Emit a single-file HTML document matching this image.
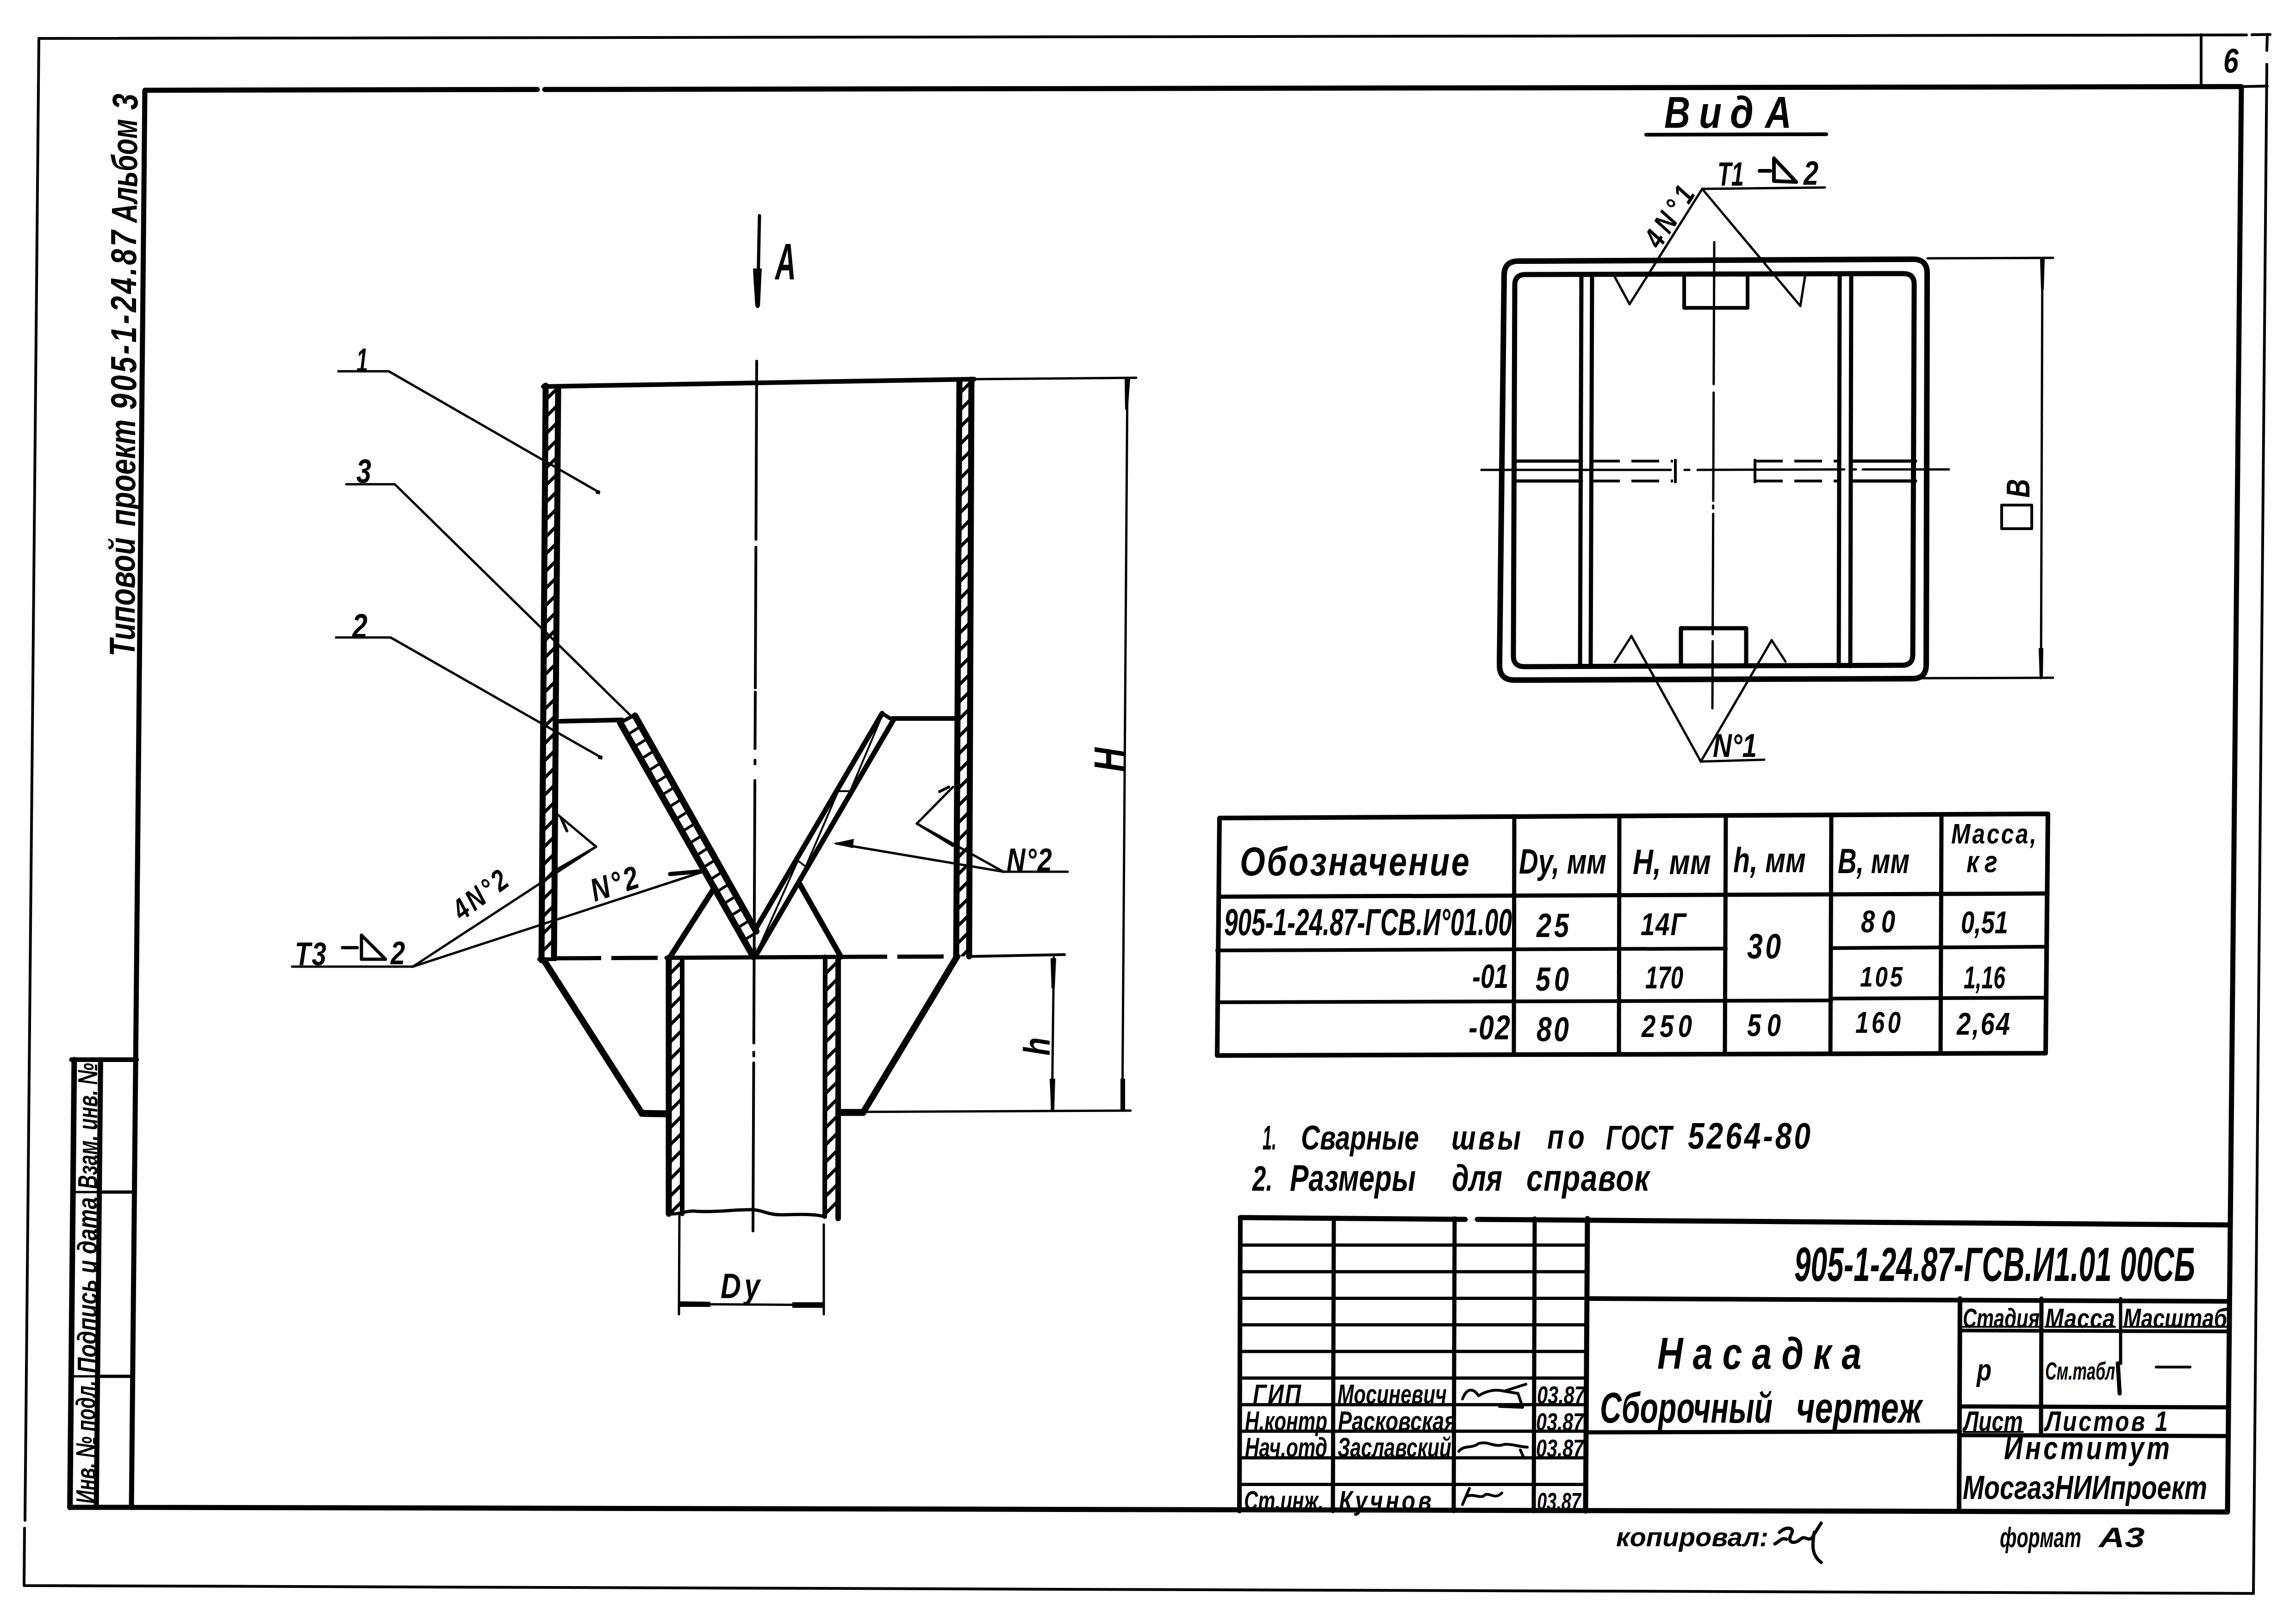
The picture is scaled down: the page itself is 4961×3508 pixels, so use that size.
<!DOCTYPE html>
<html><head><meta charset="utf-8"><title>Насадка</title>
<style>html,body{margin:0;padding:0;background:#fff;}svg{display:block;}text{font-family:"Liberation Sans",sans-serif;fill:#000;stroke:none;}</style>
</head><body>
<svg width="4961" height="3508" viewBox="0 0 4961 3508" stroke="#000" stroke-linecap="round" stroke-linejoin="round">
<rect width="4961" height="3508" fill="#fff" stroke="none"/>
<polyline points="84.0,83.0 4854.0,75.5" stroke-width="6" fill="none" />
<polyline points="4866.0,75.0 4905.0,74.5" stroke-width="6" fill="none" />
<polyline points="4899.0,74.5 4898.0,109.0" stroke-width="6" fill="none" />
<polyline points="4898.0,139.0 4869.0,3442.0 52.0,3425.0 53.0,3301.0" stroke-width="6" fill="none" />
<line x1="4843.0" y1="187.0" x2="4899.0" y2="186.0" stroke-width="6" />
<polyline points="54.0,3284.0 84.0,83.0" stroke-width="6" fill="none" />
<polyline points="1161.0,193.3 313.0,195.0 284.0,3256.0 4813.0,3266.0 4843.0,187.0 1177.0,193.3" stroke-width="11" fill="none" />
<line x1="4756.0" y1="75.0" x2="4756.0" y2="187.0" stroke-width="6" />
<text x="0" y="0" font-size="74.0" font-weight="bold" font-style="italic" textLength="47.5" lengthAdjust="spacing" transform="translate(4804.0 157.0) scale(0.8000 1)" >6</text>
<text x="0" y="0" font-size="78.0" font-weight="bold" font-style="italic" textLength="328.1" lengthAdjust="spacing" transform="translate(291.0 1418.0) rotate(-90) scale(0.7834 1)">Типовой</text>
<text x="0" y="0" font-size="78.0" font-weight="bold" font-style="italic" textLength="295.2" lengthAdjust="spacing" transform="translate(292.0 1137.0) rotate(-90) scale(0.7825 1)">проект</text>
<text x="0" y="0" font-size="78.0" font-weight="bold" font-style="italic" textLength="483.8" lengthAdjust="spacing" transform="translate(294.0 885.0) rotate(-90) scale(0.8000 1)">905-1-24.87</text>
<text x="0" y="0" font-size="78.0" font-weight="bold" font-style="italic" textLength="304.8" lengthAdjust="spacing" transform="translate(296.0 481.0) rotate(-90) scale(0.7349 1)">Альбом</text>
<text x="0" y="0" font-size="78.0" font-weight="bold" font-style="italic" textLength="43.8" lengthAdjust="spacing" transform="translate(297.0 237.0) rotate(-90) scale(0.8000 1)">3</text>
<line x1="160.4" y1="2289.0" x2="151.1" y2="3256.0" stroke-width="12" />
<line x1="217.4" y1="2289.0" x2="208.1" y2="3256.0" stroke-width="11" />
<line x1="154.4" y1="2289.0" x2="295.4" y2="2289.0" stroke-width="10" />
<line x1="151.1" y1="3256.0" x2="290.0" y2="3256.0" stroke-width="11" />
<line x1="214.6" y1="2575.0" x2="292.6" y2="2575.0" stroke-width="7" />
<line x1="210.8" y1="2973.0" x2="288.8" y2="2973.0" stroke-width="7" />
<line x1="157.6" y1="2575.0" x2="214.6" y2="2575.0" stroke-width="5" />
<line x1="153.8" y1="2973.0" x2="210.8" y2="2973.0" stroke-width="5" />
<text x="0" y="0" font-size="60.0" font-weight="bold" font-style="italic" textLength="396.3" lengthAdjust="spacing" transform="translate(210.0 2568.0) rotate(-90) scale(0.6864 1)">Взам. инв. №</text>
<text x="0" y="0" font-size="60.0" font-weight="bold" font-style="italic" textLength="486.4" lengthAdjust="spacing" transform="translate(209.0 2966.0) rotate(-90) scale(0.7813 1)">Подпись и дата</text>
<text x="0" y="0" font-size="60.0" font-weight="bold" font-style="italic" textLength="398.8" lengthAdjust="spacing" transform="translate(206.0 3248.0) rotate(-90) scale(0.6670 1)">Инв. № подл.</text>
<line x1="1174.0" y1="835.0" x2="2105.0" y2="819.0" stroke-width="10" />
<line x1="2105.0" y1="819.0" x2="2455.0" y2="816.0" stroke-width="5" />
<clipPath id="c1"><polygon points="1180.0,835.0 1171.0,2072.0 1198.0,2072.0 1207.0,835.0"/></clipPath>
<path d="M1166.0,840.0L1212.0,794.0M1166.0,877.0L1212.0,831.0M1166.0,914.0L1212.0,868.0M1166.0,951.0L1212.0,905.0M1166.0,988.0L1212.0,942.0M1166.0,1025.0L1212.0,979.0M1166.0,1062.0L1212.0,1016.0M1166.0,1099.0L1212.0,1053.0M1166.0,1136.0L1212.0,1090.0M1166.0,1173.0L1212.0,1127.0M1166.0,1210.0L1212.0,1164.0M1166.0,1247.0L1212.0,1201.0M1166.0,1284.0L1212.0,1238.0M1166.0,1321.0L1212.0,1275.0M1166.0,1358.0L1212.0,1312.0M1166.0,1395.0L1212.0,1349.0M1166.0,1432.0L1212.0,1386.0M1166.0,1469.0L1212.0,1423.0M1166.0,1506.0L1212.0,1460.0M1166.0,1543.0L1212.0,1497.0M1166.0,1580.0L1212.0,1534.0M1166.0,1617.0L1212.0,1571.0M1166.0,1654.0L1212.0,1608.0M1166.0,1691.0L1212.0,1645.0M1166.0,1728.0L1212.0,1682.0M1166.0,1765.0L1212.0,1719.0M1166.0,1802.0L1212.0,1756.0M1166.0,1839.0L1212.0,1793.0M1166.0,1876.0L1212.0,1830.0M1166.0,1913.0L1212.0,1867.0M1166.0,1950.0L1212.0,1904.0M1166.0,1987.0L1212.0,1941.0M1166.0,2024.0L1212.0,1978.0M1166.0,2061.0L1212.0,2015.0M1166.0,2098.0L1212.0,2052.0" stroke-width="7" clip-path="url(#c1)"/>
<line x1="1179.0" y1="833.0" x2="1170.0" y2="2074.0" stroke-width="13" />
<line x1="1206.0" y1="840.0" x2="1197.0" y2="2068.0" stroke-width="13" />
<line x1="1165.0" y1="2072.0" x2="1200.0" y2="2072.0" stroke-width="8" />
<clipPath id="c2"><polygon points="2073.0,822.0 2066.0,2066.0 2093.0,2066.0 2099.0,820.0"/></clipPath>
<path d="M2061.0,825.0L2104.0,782.0M2061.0,862.0L2104.0,819.0M2061.0,899.0L2104.0,856.0M2061.0,936.0L2104.0,893.0M2061.0,973.0L2104.0,930.0M2061.0,1010.0L2104.0,967.0M2061.0,1047.0L2104.0,1004.0M2061.0,1084.0L2104.0,1041.0M2061.0,1121.0L2104.0,1078.0M2061.0,1158.0L2104.0,1115.0M2061.0,1195.0L2104.0,1152.0M2061.0,1232.0L2104.0,1189.0M2061.0,1269.0L2104.0,1226.0M2061.0,1306.0L2104.0,1263.0M2061.0,1343.0L2104.0,1300.0M2061.0,1380.0L2104.0,1337.0M2061.0,1417.0L2104.0,1374.0M2061.0,1454.0L2104.0,1411.0M2061.0,1491.0L2104.0,1448.0M2061.0,1528.0L2104.0,1485.0M2061.0,1565.0L2104.0,1522.0M2061.0,1602.0L2104.0,1559.0M2061.0,1639.0L2104.0,1596.0M2061.0,1676.0L2104.0,1633.0M2061.0,1713.0L2104.0,1670.0M2061.0,1750.0L2104.0,1707.0M2061.0,1787.0L2104.0,1744.0M2061.0,1824.0L2104.0,1781.0M2061.0,1861.0L2104.0,1818.0M2061.0,1898.0L2104.0,1855.0M2061.0,1935.0L2104.0,1892.0M2061.0,1972.0L2104.0,1929.0M2061.0,2009.0L2104.0,1966.0M2061.0,2046.0L2104.0,2003.0M2061.0,2083.0L2104.0,2040.0" stroke-width="7" clip-path="url(#c2)"/>
<line x1="2073.0" y1="822.0" x2="2066.0" y2="2066.0" stroke-width="13" />
<line x1="2099.0" y1="820.0" x2="2094.0" y2="2066.0" stroke-width="13" />
<path d="M1199,2070 L1440,2069" stroke-width="9" fill="none" stroke-dasharray="100,22" stroke-linecap="butt"/>
<line x1="1440.0" y1="2069.0" x2="1817.0" y2="2067.0" stroke-width="9" />
<path d="M1817,2067 L2068,2066" stroke-width="9" fill="none" stroke-dasharray="100,22" stroke-linecap="butt"/>
<line x1="2099.0" y1="2066.0" x2="2300.0" y2="2062.0" stroke-width="6" />
<line x1="1210.0" y1="1558.0" x2="1344.0" y2="1555.0" stroke-width="10" />
<line x1="1928.0" y1="1552.0" x2="2068.0" y2="1552.0" stroke-width="10" />
<clipPath id="c3"><polygon points="1344.0,1559.0 1628.0,2067.0 1640.0,2030.0 1374.0,1546.0"/></clipPath>
<path d="M1311.5,1579.3L1379.9,1536.6M1327.4,1604.8L1395.8,1562.0M1343.3,1630.2L1411.7,1587.5M1359.2,1655.6L1427.6,1612.9M1375.1,1681.1L1443.5,1638.3M1391.0,1706.5L1459.4,1663.8M1406.9,1732.0L1475.3,1689.2M1422.8,1757.4L1491.2,1714.7M1438.7,1782.9L1507.1,1740.1M1454.6,1808.3L1523.0,1765.5M1470.5,1833.7L1538.9,1791.0M1486.3,1859.2L1554.8,1816.4M1502.2,1884.6L1570.7,1841.9M1518.1,1910.1L1586.6,1867.3M1534.0,1935.5L1602.5,1892.7M1549.9,1960.9L1618.4,1918.2M1565.8,1986.4L1634.3,1943.6M1581.7,2011.8L1650.2,1969.1M1597.6,2037.3L1666.1,1994.5M1613.5,2062.7L1682.0,2020.0" stroke-width="6" clip-path="url(#c3)"/>
<line x1="1340.0" y1="1561.0" x2="1628.0" y2="2067.0" stroke-width="14" />
<line x1="1372.0" y1="1546.0" x2="1634.0" y2="2012.0" stroke-width="14" />
<line x1="1344.0" y1="1559.0" x2="1372.0" y2="1544.0" stroke-width="8" />
<line x1="1906.0" y1="1541.0" x2="1632.0" y2="2008.0" stroke-width="11" />
<line x1="1930.0" y1="1556.0" x2="1632.0" y2="2066.0" stroke-width="11" />
<line x1="1906.0" y1="1541.0" x2="1930.0" y2="1556.0" stroke-width="8" />
<polyline points="1902.0,1555.0 1837.0,1709.0 1811.0,1709.0 1741.0,1872.0 1724.0,1859.0 1643.0,2040.0" stroke-width="4" fill="none" />
<line x1="1448.0" y1="2067.0" x2="1544.0" y2="1917.0" stroke-width="12" />
<line x1="1728.0" y1="1910.0" x2="1817.0" y2="2067.0" stroke-width="12" />
<line x1="1175.0" y1="2074.0" x2="1387.0" y2="2405.0" stroke-width="14" />
<line x1="1387.0" y1="2405.0" x2="1440.0" y2="2406.0" stroke-width="15" />
<line x1="2068.0" y1="2066.0" x2="1865.0" y2="2403.0" stroke-width="14" />
<line x1="1815.0" y1="2403.0" x2="1865.0" y2="2403.0" stroke-width="15" />
<line x1="1815.0" y1="2402.0" x2="2443.0" y2="2399.0" stroke-width="5" />
<clipPath id="c4"><polygon points="1445.0,2069.0 1445.0,2621.0 1473.0,2621.0 1473.0,2069.0"/></clipPath>
<path d="M1440.0,2074.0L1478.0,2036.0M1440.0,2111.0L1478.0,2073.0M1440.0,2148.0L1478.0,2110.0M1440.0,2185.0L1478.0,2147.0M1440.0,2222.0L1478.0,2184.0M1440.0,2259.0L1478.0,2221.0M1440.0,2296.0L1478.0,2258.0M1440.0,2333.0L1478.0,2295.0M1440.0,2370.0L1478.0,2332.0M1440.0,2407.0L1478.0,2369.0M1440.0,2444.0L1478.0,2406.0M1440.0,2481.0L1478.0,2443.0M1440.0,2518.0L1478.0,2480.0M1440.0,2555.0L1478.0,2517.0M1440.0,2592.0L1478.0,2554.0M1440.0,2629.0L1478.0,2591.0" stroke-width="7" clip-path="url(#c4)"/>
<line x1="1445.0" y1="2069.0" x2="1445.0" y2="2622.0" stroke-width="13" />
<line x1="1474.0" y1="2069.0" x2="1474.0" y2="2622.0" stroke-width="10" />
<clipPath id="c5"><polygon points="1783.0,2067.0 1783.0,2626.0 1811.0,2631.0 1811.0,2067.0"/></clipPath>
<path d="M1778.0,2072.0L1816.0,2034.0M1778.0,2109.0L1816.0,2071.0M1778.0,2146.0L1816.0,2108.0M1778.0,2183.0L1816.0,2145.0M1778.0,2220.0L1816.0,2182.0M1778.0,2257.0L1816.0,2219.0M1778.0,2294.0L1816.0,2256.0M1778.0,2331.0L1816.0,2293.0M1778.0,2368.0L1816.0,2330.0M1778.0,2405.0L1816.0,2367.0M1778.0,2442.0L1816.0,2404.0M1778.0,2479.0L1816.0,2441.0M1778.0,2516.0L1816.0,2478.0M1778.0,2553.0L1816.0,2515.0M1778.0,2590.0L1816.0,2552.0M1778.0,2627.0L1816.0,2589.0M1778.0,2664.0L1816.0,2626.0" stroke-width="7" clip-path="url(#c5)"/>
<line x1="1783.0" y1="2067.0" x2="1782.0" y2="2628.0" stroke-width="10" />
<line x1="1811.0" y1="2067.0" x2="1811.0" y2="2632.0" stroke-width="12" />
<path d="M1445,2622 C1470,2624 1480,2615 1500,2616 C1540,2620 1590,2612 1625,2613 C1650,2614 1660,2625 1690,2624 C1730,2623 1760,2622 1782,2628" stroke-width="7" fill="none" />
<line x1="1635.0" y1="780.0" x2="1633.4" y2="1165.0" stroke-width="6" />
<line x1="1633.3" y1="1182.0" x2="1632.0" y2="1486.0" stroke-width="6" />
<line x1="1632.0" y1="1495.0" x2="1631.4" y2="1617.0" stroke-width="6" />
<line x1="1631.3" y1="1642.0" x2="1631.3" y2="1650.0" stroke-width="6" />
<line x1="1631.1" y1="1686.0" x2="1628.7" y2="2253.0" stroke-width="6" />
<line x1="1628.6" y1="2273.0" x2="1628.6" y2="2281.0" stroke-width="6" />
<line x1="1628.5" y1="2296.0" x2="1627.0" y2="2659.0" stroke-width="6" />
<line x1="1641.0" y1="466.0" x2="1637.0" y2="662.0" stroke-width="7" />
<polygon points="1627.0,580.0 1646.0,580.0 1645.0,600.0 1642.0,662.0 1632.0,662.0 1628.0,600.0" fill="#000" stroke="none" />
<text x="0" y="0" font-size="112.0" font-weight="bold" font-style="italic" textLength="80.9" lengthAdjust="spacing" transform="translate(1675.0 604.0) scale(0.5564 1)" >A</text>
<line x1="2436.0" y1="816.0" x2="2425.0" y2="2399.0" stroke-width="5" />
<polygon points="2430.0,818.0 2442.0,818.0 2437.0,885.0 2431.0,885.0" fill="#000" stroke="none" />
<polygon points="2421.0,2330.0 2431.0,2330.0 2431.0,2398.0 2421.0,2398.0" fill="#000" stroke="none" />
<text x="0" y="0" font-size="90.0" font-weight="bold" font-style="italic" textLength="67.5" lengthAdjust="spacing" transform="translate(2428.0 1667.0) rotate(-90) scale(0.8000 1)">H</text>
<line x1="2277.0" y1="2068.0" x2="2273.0" y2="2399.0" stroke-width="5" />
<polygon points="2270.0,2070.0 2282.0,2070.0 2279.0,2135.0 2272.0,2135.0" fill="#000" stroke="none" />
<polygon points="2268.0,2330.0 2280.0,2330.0 2278.0,2397.0 2271.0,2397.0" fill="#000" stroke="none" />
<text x="0" y="0" font-size="80.0" font-weight="bold" font-style="italic" textLength="57.5" lengthAdjust="spacing" transform="translate(2268.0 2280.0) rotate(-90) scale(0.8000 1)">h</text>
<line x1="1468.0" y1="2625.0" x2="1467.0" y2="2839.0" stroke-width="5" />
<line x1="1780.0" y1="2645.0" x2="1780.0" y2="2839.0" stroke-width="5" />
<line x1="1467.0" y1="2817.0" x2="1780.0" y2="2819.0" stroke-width="5" />
<polygon points="1467.0,2811.0 1535.0,2812.0 1535.0,2823.0 1467.0,2823.0" fill="#000" stroke="none" />
<polygon points="1712.0,2813.0 1780.0,2813.0 1780.0,2825.0 1712.0,2825.0" fill="#000" stroke="none" />
<text x="0" y="0" font-size="76.0" font-weight="bold" font-style="italic" textLength="106.2" lengthAdjust="spacing" transform="translate(1557.0 2804.0) scale(0.8000 1)" >Dy</text>
<polyline points="731.0,802.0 840.0,802.0 1292.0,1062.0" stroke-width="5" fill="none" />
<text x="0" y="0" font-size="75.0" font-weight="bold" font-style="italic" textLength="41.7" lengthAdjust="spacing" transform="translate(770.0 804.0) scale(0.5994 1)" >1</text>
<polyline points="748.0,1046.0 853.0,1046.0 1367.0,1550.0" stroke-width="5" fill="none" />
<text x="0" y="0" font-size="72.0" font-weight="bold" font-style="italic" textLength="42.5" lengthAdjust="spacing" transform="translate(770.0 1043.0) scale(0.8000 1)" >3</text>
<polyline points="726.0,1377.0 844.0,1377.0 1297.0,1635.0" stroke-width="5" fill="none" />
<text x="0" y="0" font-size="74.0" font-weight="bold" font-style="italic" textLength="43.8" lengthAdjust="spacing" transform="translate(761.0 1378.0) scale(0.8000 1)" >2</text>
<line x1="631.0" y1="2088.0" x2="892.0" y2="2088.0" stroke-width="5" />
<text x="0" y="0" font-size="70.0" font-weight="bold" font-style="italic" textLength="85.0" lengthAdjust="spacing" transform="translate(637.0 2085.0) scale(0.8000 1)" >T3</text>
<line x1="740.0" y1="2047.0" x2="772.0" y2="2047.0" stroke-width="7" />
<polygon points="781.0,2020.0 781.0,2072.0 833.0,2072.0" stroke-width="7" fill="none" />
<text x="0" y="0" font-size="70.0" font-weight="bold" font-style="italic" textLength="45.0" lengthAdjust="spacing" transform="translate(844.0 2083.0) scale(0.8000 1)" >2</text>
<line x1="892.0" y1="2088.0" x2="1288.0" y2="1829.0" stroke-width="5" />
<line x1="892.0" y1="2088.0" x2="1519.0" y2="1883.0" stroke-width="5" />
<line x1="1448.0" y1="1888.0" x2="1518.0" y2="1882.0" stroke-width="9" />
<polyline points="1197.0,1753.0 1288.0,1829.0 1200.0,1880.0" stroke-width="5" fill="none" />
<line x1="1212.0" y1="1766.0" x2="1225.0" y2="1795.0" stroke-width="6" />
<text x="0" y="0" font-size="64.0" font-weight="bold" font-style="italic" textLength="165.0" lengthAdjust="spacing" transform="translate(998.0 1990.0) rotate(-37) scale(0.8000 1)" >4N°2</text>
<text x="0" y="0" font-size="70.0" font-weight="bold" font-style="italic" textLength="131.2" lengthAdjust="spacing" transform="translate(1285.0 1948.0) rotate(-18) scale(0.8000 1)" >N°2</text>
<line x1="2307.0" y1="1883.0" x2="2168.0" y2="1883.0" stroke-width="5" />
<line x1="2168.0" y1="1883.0" x2="1981.0" y2="1779.0" stroke-width="5" />
<line x1="2168.0" y1="1883.0" x2="1807.0" y2="1822.0" stroke-width="5" />
<polygon points="1800.0,1822.0 1845.0,1812.0 1843.0,1832.0" fill="#000" stroke="none" />
<polyline points="2059.0,1700.0 1981.0,1779.0 2059.0,1827.0" stroke-width="5" fill="none" />
<line x1="2030.0" y1="1710.0" x2="2050.0" y2="1700.0" stroke-width="6" />
<text x="0" y="0" font-size="70.0" font-weight="bold" font-style="italic" textLength="122.5" lengthAdjust="spacing" transform="translate(2175.0 1882.0) scale(0.8000 1)" >N°2</text>
<polygon points="1288.0,1058.0 1297.0,1060.0 1296.0,1068.0 1287.0,1066.0" fill="#000" stroke="none" />
<polygon points="1293.0,1631.0 1302.0,1633.0 1301.0,1641.0 1292.0,1639.0" fill="#000" stroke="none" />
<text x="0" y="0" font-size="96.0" font-weight="bold" font-style="italic" textLength="69.3" lengthAdjust="spacing" transform="translate(3596.0 276.0) scale(0.8077 1)" >В</text>
<text x="0" y="0" font-size="96.0" font-weight="bold" font-style="italic" textLength="58.6" lengthAdjust="spacing" transform="translate(3671.0 276.0) scale(0.8356 1)" >и</text>
<text x="0" y="0" font-size="96.0" font-weight="bold" font-style="italic" textLength="59.3" lengthAdjust="spacing" transform="translate(3738.0 276.0) scale(0.8594 1)" >д</text>
<text x="0" y="0" font-size="96.0" font-weight="bold" font-style="italic" textLength="69.3" lengthAdjust="spacing" transform="translate(3814.0 276.0) scale(0.8222 1)" >А</text>
<line x1="3557.0" y1="291.0" x2="3946.0" y2="290.0" stroke-width="8" />
<text x="0" y="0" font-size="72.0" font-weight="bold" font-style="italic" textLength="84.0" lengthAdjust="spacing" transform="translate(3711.0 401.0) scale(0.6784 1)" >T1</text>
<line x1="3802.0" y1="369.0" x2="3825.0" y2="369.0" stroke-width="8" />
<polygon points="3833.0,342.0 3833.0,391.0 3881.0,393.0" stroke-width="8" fill="none" />
<text x="0" y="0" font-size="72.0" font-weight="bold" font-style="italic" textLength="43.8" lengthAdjust="spacing" transform="translate(3897.0 399.0) scale(0.8000 1)" >2</text>
<line x1="3678.0" y1="408.0" x2="3943.0" y2="405.0" stroke-width="5" />
<line x1="3678.0" y1="408.0" x2="3521.0" y2="657.0" stroke-width="5" />
<line x1="3678.0" y1="408.0" x2="3890.0" y2="661.0" stroke-width="5" />
<line x1="3489.0" y1="598.0" x2="3521.0" y2="657.0" stroke-width="5" />
<line x1="3900.0" y1="598.0" x2="3890.0" y2="661.0" stroke-width="5" />
<text x="0" y="0" font-size="64.0" font-weight="bold" font-style="italic" textLength="180.0" lengthAdjust="spacing" transform="translate(3586.0 540.0) rotate(-57) scale(0.8000 1)" >4N°1</text>
<path d="M3281,564 L4134,560 Q4164,560 4164,590 L4162,1436 Q4162,1466 4132,1466 L3272,1469 Q3240,1469 3240,1437 L3250,594 Q3250,564 3281,564 Z" stroke-width="12" fill="none" />
<path d="M3296,593 L4113,591 Q4136,591 4136,614 L4133,1414 Q4133,1437 4110,1437 L3294,1440 Q3270,1440 3270,1417 L3273,616 Q3273,593 3296,593 Z" stroke-width="11" fill="none" />
<line x1="3417.0" y1="592.0" x2="3414.0" y2="1440.0" stroke-width="9" />
<line x1="3440.0" y1="592.0" x2="3437.0" y2="1440.0" stroke-width="9" />
<line x1="3975.0" y1="591.0" x2="3973.0" y2="1439.0" stroke-width="9" />
<line x1="4000.0" y1="591.0" x2="3998.0" y2="1439.0" stroke-width="9" />
<polyline points="3639.0,592.0 3639.0,665.0 3776.0,665.0 3776.0,591.0" stroke-width="8" fill="none" />
<polyline points="3632.0,1439.0 3632.0,1357.0 3773.0,1357.0 3773.0,1439.0" stroke-width="9" fill="none" />
<line x1="3704.0" y1="523.0" x2="3702.8" y2="830.0" stroke-width="5" />
<line x1="3702.7" y1="848.0" x2="3701.8" y2="1082.0" stroke-width="5" />
<line x1="3701.7" y1="1092.0" x2="3701.7" y2="1098.0" stroke-width="5" />
<line x1="3701.7" y1="1110.0" x2="3700.6" y2="1370.0" stroke-width="5" />
<line x1="3700.6" y1="1385.0" x2="3700.0" y2="1530.0" stroke-width="5" />
<line x1="3201.0" y1="1015.0" x2="3610.0" y2="1015.0" stroke-width="5" />
<line x1="3640.0" y1="1015.0" x2="3650.0" y2="1015.0" stroke-width="5" />
<line x1="3668.0" y1="1015.0" x2="3985.0" y2="1014.0" stroke-width="5" />
<line x1="4000.0" y1="1014.0" x2="4010.0" y2="1014.0" stroke-width="5" />
<line x1="4025.0" y1="1014.0" x2="4211.0" y2="1014.0" stroke-width="5" />
<line x1="3271.0" y1="996.0" x2="3417.0" y2="996.0" stroke-width="7" />
<line x1="3271.0" y1="1039.0" x2="3417.0" y2="1039.0" stroke-width="7" />
<path d="M3440,996 L3615,996" stroke-width="6" fill="none" stroke-dasharray="60,25" stroke-linecap="butt"/>
<path d="M3440,1039 L3615,1039" stroke-width="6" fill="none" stroke-dasharray="60,25" stroke-linecap="butt"/>
<line x1="3620.0" y1="994.0" x2="3620.0" y2="1041.0" stroke-width="6" />
<path d="M3792,996 L3975,996" stroke-width="6" fill="none" stroke-dasharray="60,25" stroke-linecap="butt"/>
<path d="M3792,1039 L3975,1039" stroke-width="6" fill="none" stroke-dasharray="60,25" stroke-linecap="butt"/>
<line x1="3792.0" y1="994.0" x2="3792.0" y2="1041.0" stroke-width="6" />
<line x1="4000.0" y1="996.0" x2="4139.0" y2="996.0" stroke-width="7" />
<line x1="4000.0" y1="1039.0" x2="4139.0" y2="1039.0" stroke-width="7" />
<line x1="3675.0" y1="1645.0" x2="3812.0" y2="1641.0" stroke-width="5" />
<line x1="3675.0" y1="1645.0" x2="3525.0" y2="1374.0" stroke-width="5" />
<line x1="3675.0" y1="1645.0" x2="3828.0" y2="1383.0" stroke-width="5" />
<line x1="3489.0" y1="1430.0" x2="3525.0" y2="1374.0" stroke-width="5" />
<line x1="3858.0" y1="1429.0" x2="3828.0" y2="1383.0" stroke-width="5" />
<text x="0" y="0" font-size="71.0" font-weight="bold" font-style="italic" textLength="119.2" lengthAdjust="spacing" transform="translate(3701.0 1635.0) scale(0.7973 1)" >N°1</text>
<line x1="4165.0" y1="558.0" x2="4436.0" y2="557.0" stroke-width="5" />
<line x1="4145.0" y1="1465.0" x2="4436.0" y2="1464.0" stroke-width="5" />
<line x1="4413.0" y1="558.0" x2="4410.0" y2="1465.0" stroke-width="5" />
<polygon points="4408.0,560.0 4418.0,560.0 4416.0,625.0 4410.0,625.0" fill="#000" stroke="none" />
<polygon points="4405.0,1400.0 4415.0,1400.0 4414.0,1463.0 4407.0,1463.0" fill="#000" stroke="none" />
<polygon points="4325.0,1142.0 4325.0,1091.0 4390.0,1091.0 4390.0,1142.0" stroke-width="6" fill="none" />
<text x="0" y="0" font-size="70.0" font-weight="bold" font-style="italic" textLength="61.2" lengthAdjust="spacing" transform="translate(4385.0 1075.0) rotate(-90) scale(0.8000 1)">B</text>
<polygon points="2635.0,1767.0 4425.0,1758.0 4420.0,2275.0 2630.0,2280.0" stroke-width="10" fill="none" />
<line x1="3272.0" y1="1763.0" x2="3271.0" y2="2275.0" stroke-width="9" />
<line x1="3499.0" y1="1763.0" x2="3498.0" y2="2275.0" stroke-width="9" />
<line x1="3729.0" y1="1763.0" x2="3727.0" y2="2275.0" stroke-width="9" />
<line x1="3957.0" y1="1763.0" x2="3955.0" y2="2275.0" stroke-width="9" />
<line x1="4195.0" y1="1763.0" x2="4193.0" y2="2275.0" stroke-width="9" />
<line x1="2634.0" y1="1937.0" x2="4424.0" y2="1930.0" stroke-width="9" />
<line x1="2630.0" y1="2053.0" x2="3729.0" y2="2049.0" stroke-width="8" />
<line x1="3957.0" y1="2048.0" x2="4423.0" y2="2045.0" stroke-width="8" />
<line x1="2630.0" y1="2165.0" x2="3957.0" y2="2161.0" stroke-width="8" />
<line x1="3957.0" y1="2157.0" x2="4422.0" y2="2155.0" stroke-width="8" />
<text x="0" y="0" font-size="88.0" font-weight="bold" font-style="italic" textLength="620.0" lengthAdjust="spacing" transform="translate(2679.0 1891.0) scale(0.8000 1)" >Обозначение</text>
<text x="0" y="0" font-size="76.0" font-weight="bold" font-style="italic" textLength="249.0" lengthAdjust="spacing" transform="translate(3282.0 1887.0) scale(0.7590 1)" >Dy, мм</text>
<text x="0" y="0" font-size="76.0" font-weight="bold" font-style="italic" textLength="211.2" lengthAdjust="spacing" transform="translate(3528.0 1888.0) scale(0.8000 1)" >H, мм</text>
<text x="0" y="0" font-size="76.0" font-weight="bold" font-style="italic" textLength="201.1" lengthAdjust="spacing" transform="translate(3745.0 1884.0) scale(0.7807 1)" >h, мм</text>
<text x="0" y="0" font-size="76.0" font-weight="bold" font-style="italic" textLength="209.6" lengthAdjust="spacing" transform="translate(3971.0 1886.0) scale(0.7397 1)" >B, мм</text>
<text x="0" y="0" font-size="62.0" font-weight="bold" font-style="italic" textLength="230.0" lengthAdjust="spacing" transform="translate(4216.0 1822.0) scale(0.8000 1)" >Масса,</text>
<text x="0" y="0" font-size="66.0" font-weight="bold" font-style="italic" textLength="83.8" lengthAdjust="spacing" transform="translate(4249.0 1884.0) scale(0.8000 1)" >кг</text>
<text x="0" y="0" font-size="82.0" font-weight="bold" font-style="italic" textLength="958.1" lengthAdjust="spacing" transform="translate(2645.0 2020.0) scale(0.6492 1)" >905-1-24.87-ГСВ.И°01.00</text>
<text x="0" y="0" font-size="72.0" font-weight="bold" font-style="italic" textLength="87.5" lengthAdjust="spacing" transform="translate(3320.0 2024.0) scale(0.8000 1)" >25</text>
<text x="0" y="0" font-size="68.0" font-weight="bold" font-style="italic" textLength="122.5" lengthAdjust="spacing" transform="translate(3545.0 2020.0) scale(0.8000 1)" >14Г</text>
<text x="0" y="0" font-size="76.0" font-weight="bold" font-style="italic" textLength="91.2" lengthAdjust="spacing" transform="translate(3775.0 2070.0) scale(0.8000 1)" >30</text>
<text x="0" y="0" font-size="68.0" font-weight="bold" font-style="italic" textLength="92.5" lengthAdjust="spacing" transform="translate(4021.0 2014.0) scale(0.8000 1)" >80</text>
<text x="0" y="0" font-size="68.0" font-weight="bold" font-style="italic" textLength="132.3" lengthAdjust="spacing" transform="translate(4237.0 2016.0) scale(0.7707 1)" >0,51</text>
<text x="0" y="0" font-size="72.0" font-weight="bold" font-style="italic" textLength="104.1" lengthAdjust="spacing" transform="translate(3181.0 2134.0) scale(0.7495 1)" >-01</text>
<text x="0" y="0" font-size="72.0" font-weight="bold" font-style="italic" textLength="90.0" lengthAdjust="spacing" transform="translate(3318.0 2140.0) scale(0.8000 1)" >50</text>
<text x="0" y="0" font-size="68.0" font-weight="bold" font-style="italic" textLength="113.5" lengthAdjust="spacing" transform="translate(3555.0 2135.0) scale(0.7227 1)" >170</text>
<text x="0" y="0" font-size="62.0" font-weight="bold" font-style="italic" textLength="115.0" lengthAdjust="spacing" transform="translate(4019.0 2131.0) scale(0.8000 1)" >105</text>
<text x="0" y="0" font-size="68.0" font-weight="bold" font-style="italic" textLength="132.3" lengthAdjust="spacing" transform="translate(4243.0 2135.0) scale(0.6800 1)" >1,16</text>
<text x="0" y="0" font-size="74.0" font-weight="bold" font-style="italic" textLength="112.5" lengthAdjust="spacing" transform="translate(3173.0 2245.0) scale(0.8000 1)" >-02</text>
<text x="0" y="0" font-size="74.0" font-weight="bold" font-style="italic" textLength="87.5" lengthAdjust="spacing" transform="translate(3320.0 2249.0) scale(0.8000 1)" >80</text>
<text x="0" y="0" font-size="68.0" font-weight="bold" font-style="italic" textLength="136.2" lengthAdjust="spacing" transform="translate(3547.0 2240.0) scale(0.8000 1)" >250</text>
<text x="0" y="0" font-size="68.0" font-weight="bold" font-style="italic" textLength="91.2" lengthAdjust="spacing" transform="translate(3775.0 2238.0) scale(0.8000 1)" >50</text>
<text x="0" y="0" font-size="64.0" font-weight="bold" font-style="italic" textLength="122.5" lengthAdjust="spacing" transform="translate(4009.0 2231.0) scale(0.8000 1)" >160</text>
<text x="0" y="0" font-size="68.0" font-weight="bold" font-style="italic" textLength="143.8" lengthAdjust="spacing" transform="translate(4228.0 2235.0) scale(0.8000 1)" >2,64</text>
<text x="0" y="0" font-size="74.0" font-weight="bold" font-style="italic" textLength="61.7" lengthAdjust="spacing" transform="translate(2728.0 2483.0) scale(0.4861 1)" >1.</text>
<text x="0" y="0" font-size="74.0" font-weight="bold" font-style="italic" textLength="332.6" lengthAdjust="spacing" transform="translate(2811.0 2483.0) scale(0.7668 1)" >Сварные</text>
<text x="0" y="0" font-size="74.0" font-weight="bold" font-style="italic" textLength="187.5" lengthAdjust="spacing" transform="translate(3136.0 2483.0) scale(0.8000 1)" >швы</text>
<text x="0" y="0" font-size="74.0" font-weight="bold" font-style="italic" textLength="101.2" lengthAdjust="spacing" transform="translate(3343.0 2481.0) scale(0.8000 1)" >по</text>
<text x="0" y="0" font-size="74.0" font-weight="bold" font-style="italic" textLength="197.8" lengthAdjust="spacing" transform="translate(3470.0 2483.0) scale(0.7229 1)" >ГОСТ</text>
<text x="0" y="0" font-size="80.0" font-weight="bold" font-style="italic" textLength="331.2" lengthAdjust="spacing" transform="translate(3647.0 2481.0) scale(0.8000 1)" >5264-80</text>
<text x="0" y="0" font-size="76.0" font-weight="bold" font-style="italic" textLength="63.4" lengthAdjust="spacing" transform="translate(2706.0 2572.0) scale(0.6942 1)" >2.</text>
<text x="0" y="0" font-size="80.0" font-weight="bold" font-style="italic" textLength="358.5" lengthAdjust="spacing" transform="translate(2787.0 2572.0) scale(0.7588 1)" >Размеры</text>
<text x="0" y="0" font-size="80.0" font-weight="bold" font-style="italic" textLength="146.3" lengthAdjust="spacing" transform="translate(3137.0 2572.0) scale(0.7449 1)" >для</text>
<text x="0" y="0" font-size="80.0" font-weight="bold" font-style="italic" textLength="332.5" lengthAdjust="spacing" transform="translate(3298.0 2572.0) scale(0.8000 1)" >справок</text>
<line x1="2680.0" y1="2630.0" x2="3166.0" y2="2634.0" stroke-width="11" />
<line x1="3192.0" y1="2634.0" x2="4818.0" y2="2646.0" stroke-width="11" />
<line x1="2680.0" y1="2632.0" x2="2678.0" y2="3264.0" stroke-width="10" />
<line x1="2882.0" y1="2632.0" x2="2880.0" y2="3264.0" stroke-width="9" />
<line x1="3143.0" y1="2632.0" x2="3141.0" y2="3264.0" stroke-width="9" />
<line x1="3316.0" y1="2632.0" x2="3314.0" y2="3264.0" stroke-width="9" />
<line x1="3430.0" y1="2632.0" x2="3426.0" y2="3264.0" stroke-width="11" />
<line x1="2680.0" y1="2689.5" x2="3428.0" y2="2689.5" stroke-width="7" />
<line x1="2680.0" y1="2746.9" x2="3428.0" y2="2746.9" stroke-width="7" />
<line x1="2680.0" y1="2804.4" x2="3428.0" y2="2804.4" stroke-width="7" />
<line x1="2680.0" y1="2861.8" x2="3428.0" y2="2861.8" stroke-width="7" />
<line x1="2680.0" y1="2919.3" x2="3428.0" y2="2919.3" stroke-width="7" />
<line x1="2680.0" y1="2976.7" x2="3428.0" y2="2976.7" stroke-width="7" />
<line x1="2680.0" y1="3034.2" x2="3428.0" y2="3034.2" stroke-width="7" />
<line x1="2680.0" y1="3091.6" x2="3428.0" y2="3091.6" stroke-width="7" />
<line x1="2680.0" y1="3149.1" x2="3428.0" y2="3149.1" stroke-width="7" />
<line x1="2680.0" y1="3206.5" x2="3428.0" y2="3206.5" stroke-width="7" />
<line x1="3429.0" y1="2805.0" x2="4817.0" y2="2811.0" stroke-width="10" />
<line x1="3429.0" y1="3094.0" x2="4235.0" y2="3092.0" stroke-width="9" />
<line x1="4235.0" y1="3100.0" x2="4815.0" y2="3102.0" stroke-width="9" />
<line x1="4235.0" y1="2805.0" x2="4233.0" y2="3264.0" stroke-width="10" />
<line x1="4235.0" y1="2874.0" x2="4817.0" y2="2876.0" stroke-width="8" />
<line x1="4235.0" y1="3038.0" x2="4815.0" y2="3040.0" stroke-width="9" />
<line x1="4411.0" y1="2805.0" x2="4410.0" y2="3100.0" stroke-width="9" />
<line x1="4582.0" y1="2805.0" x2="4582.0" y2="2945.0" stroke-width="7" />
<text x="0" y="0" font-size="104.0" font-weight="bold" font-style="italic" textLength="1409.0" lengthAdjust="spacing" transform="translate(3877.0 2767.0) scale(0.6146 1)" >905-1-24.87-ГСВ.И1.01 00СБ</text>
<text x="0" y="0" font-size="96.0" font-weight="bold" font-style="italic" textLength="551.2" lengthAdjust="spacing" transform="translate(3581.0 2957.0) scale(0.8000 1)" >Насадка</text>
<text x="0" y="0" font-size="92.0" font-weight="bold" font-style="italic" textLength="531.4" lengthAdjust="spacing" transform="translate(3457.0 3073.0) scale(0.7019 1)" >Сборочный</text>
<text x="0" y="0" font-size="92.0" font-weight="bold" font-style="italic" textLength="359.3" lengthAdjust="spacing" transform="translate(3881.0 3073.0) scale(0.7571 1)" >чертеж</text>
<text x="0" y="0" font-size="60.0" font-weight="bold" font-style="italic" textLength="239.1" lengthAdjust="spacing" transform="translate(4241.0 2868.0) scale(0.6942 1)" >Стадия</text>
<text x="0" y="0" font-size="60.0" font-weight="bold" font-style="italic" textLength="188.8" lengthAdjust="spacing" transform="translate(4419.0 2868.0) scale(0.8000 1)" >Масса</text>
<text x="0" y="0" font-size="60.0" font-weight="bold" font-style="italic" textLength="294.7" lengthAdjust="spacing" transform="translate(4588.0 2868.0) scale(0.7602 1)" >Масштаб</text>
<line x1="4241.0" y1="2866.0" x2="4407.0" y2="2866.0" stroke-width="4" />
<line x1="4419.0" y1="2866.0" x2="4570.0" y2="2866.0" stroke-width="4" />
<line x1="4588.0" y1="2866.0" x2="4812.0" y2="2866.0" stroke-width="4" />
<text x="0" y="0" font-size="66.0" font-weight="bold" font-style="italic" textLength="53.8" lengthAdjust="spacing" transform="translate(4271.0 2982.0) scale(0.8000 1)" >р</text>
<text x="0" y="0" font-size="54.0" font-weight="bold" font-style="italic" textLength="238.3" lengthAdjust="spacing" transform="translate(4419.0 2980.0) scale(0.6336 1)" >См.табл</text>
<line x1="4576.0" y1="2945.0" x2="4580.0" y2="3010.0" stroke-width="9" />
<line x1="4659.0" y1="2953.0" x2="4732.0" y2="2953.0" stroke-width="6" />
<text x="0" y="0" font-size="62.0" font-weight="bold" font-style="italic" textLength="170.1" lengthAdjust="spacing" transform="translate(4243.0 3091.0) scale(0.7526 1)" >Лист</text>
<text x="0" y="0" font-size="62.0" font-weight="bold" font-style="italic" textLength="331.2" lengthAdjust="spacing" transform="translate(4419.0 3091.0) scale(0.8000 1)" >Листов 1</text>
<line x1="4243.0" y1="3093.0" x2="4371.0" y2="3093.0" stroke-width="4" />
<text x="0" y="0" font-size="70.0" font-weight="bold" font-style="italic" textLength="447.5" lengthAdjust="spacing" transform="translate(4330.0 3152.0) scale(0.8000 1)" >Институт</text>
<text x="0" y="0" font-size="72.0" font-weight="bold" font-style="italic" textLength="686.3" lengthAdjust="spacing" transform="translate(4241.0 3238.0) scale(0.7693 1)" >МосгазНИИпроект</text>
<text x="0" y="0" font-size="60.0" font-weight="bold" font-style="italic" textLength="130.0" lengthAdjust="spacing" transform="translate(2707.0 3032.2) scale(0.8000 1)" >ГИП</text>
<text x="0" y="0" font-size="60.0" font-weight="bold" font-style="italic" textLength="334.1" lengthAdjust="spacing" transform="translate(2890.0 3032.2) scale(0.7063 1)" >Мосиневич</text>
<text x="0" y="0" font-size="54.0" font-weight="bold" font-style="italic" textLength="135.1" lengthAdjust="spacing" transform="translate(3321.0 3032.2) scale(0.7696 1)" >03.87</text>
<text x="0" y="0" font-size="60.0" font-weight="bold" font-style="italic" textLength="253.3" lengthAdjust="spacing" transform="translate(2690.0 3089.6) scale(0.7027 1)" >Н.контр</text>
<text x="0" y="0" font-size="60.0" font-weight="bold" font-style="italic" textLength="341.8" lengthAdjust="spacing" transform="translate(2891.0 3089.6) scale(0.7490 1)" >Расковская</text>
<text x="0" y="0" font-size="54.0" font-weight="bold" font-style="italic" textLength="135.1" lengthAdjust="spacing" transform="translate(3319.0 3089.6) scale(0.7622 1)" >03.87</text>
<text x="0" y="0" font-size="60.0" font-weight="bold" font-style="italic" textLength="252.4" lengthAdjust="spacing" transform="translate(2690.0 3147.1) scale(0.7053 1)" >Нач.отд</text>
<text x="0" y="0" font-size="60.0" font-weight="bold" font-style="italic" textLength="347.8" lengthAdjust="spacing" transform="translate(2890.0 3147.1) scale(0.7073 1)" >Заславский</text>
<text x="0" y="0" font-size="54.0" font-weight="bold" font-style="italic" textLength="135.1" lengthAdjust="spacing" transform="translate(3319.0 3147.1) scale(0.7622 1)" >03.87</text>
<text x="0" y="0" font-size="60.0" font-weight="bold" font-style="italic" textLength="246.3" lengthAdjust="spacing" transform="translate(2688.0 3262.0) scale(0.6983 1)" >Ст.инж.</text>
<text x="0" y="0" font-size="60.0" font-weight="bold" font-style="italic" textLength="250.0" lengthAdjust="spacing" transform="translate(2893.0 3262.0) scale(0.8000 1)" >Кучнов</text>
<text x="0" y="0" font-size="54.0" font-weight="bold" font-style="italic" textLength="135.1" lengthAdjust="spacing" transform="translate(3321.0 3262.0) scale(0.7030 1)" >03.87</text>
<path d="M3160,3022 C3170,2995 3185,3000 3195,3015 C3210,3005 3230,3000 3250,3005 L3297,2990 M3250,3005 L3280,3010 L3290,3040 L3240,3038" stroke-width="6" fill="none" />
<path d="M3152,3135 C3165,3120 3180,3130 3195,3118 C3215,3112 3230,3128 3250,3120 C3265,3118 3280,3125 3300,3126 M3285,3132 L3292,3148" stroke-width="6" fill="none" />
<path d="M3160,3250 L3175,3215 M3170,3232 C3185,3225 3200,3240 3210,3228 C3220,3225 3230,3240 3245,3225" stroke-width="6" fill="none" />
<text x="0" y="0" font-size="58.0" font-weight="bold" font-style="italic" textLength="329.2" lengthAdjust="spacing" transform="translate(3492.0 3340.0) scale(0.9995 1)" >копировал:</text>
<path d="M3835,3335 C3845,3330 3850,3320 3860,3325 M3845,3310 C3860,3295 3880,3300 3870,3315 C3860,3335 3880,3335 3890,3325 C3900,3315 3905,3330 3915,3322 L3935,3290 M3920,3310 C3915,3340 3915,3360 3935,3375" stroke-width="7" fill="none" />
<text x="0" y="0" font-size="62.0" font-weight="bold" font-style="italic" textLength="265.3" lengthAdjust="spacing" transform="translate(4321.0 3342.0) scale(0.6635 1)" >формат</text>
<text x="0" y="0" font-size="62.0" font-weight="bold" font-style="italic" textLength="79.3" lengthAdjust="spacing" transform="translate(4535.0 3342.0) scale(1.2491 1)" >А3</text>
</svg>
</body></html>
